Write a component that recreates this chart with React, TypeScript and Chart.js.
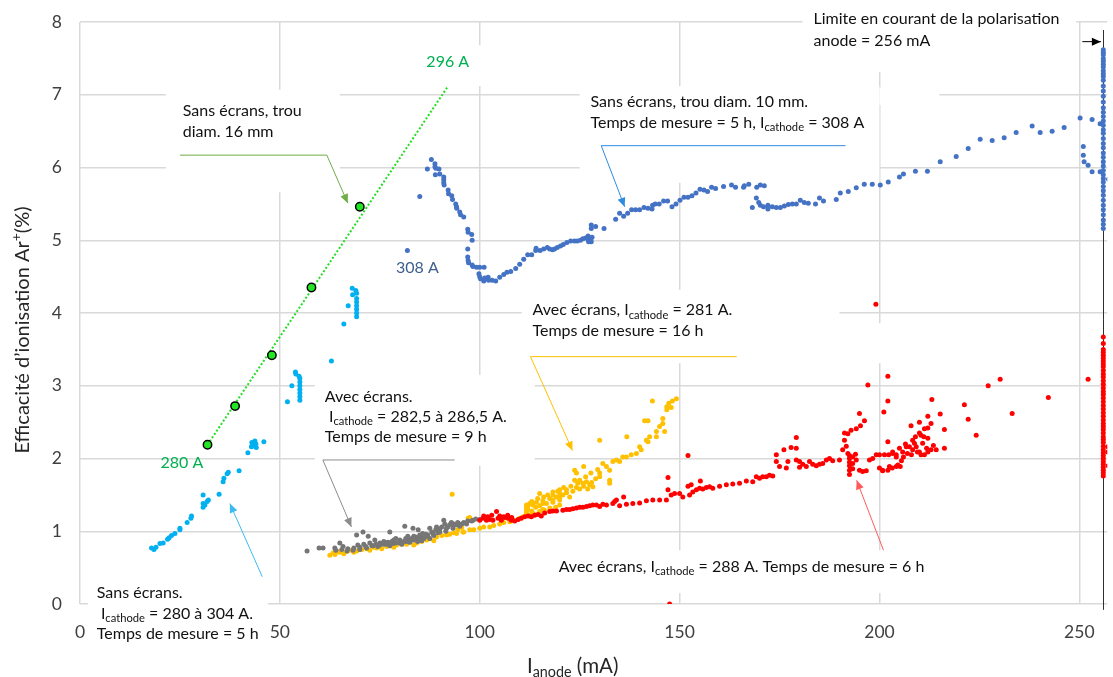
import { useEffect, useRef } from 'react';
import { Chart, registerables } from 'chart.js';
Chart.register(...registerables);

// ---------- axes ----------
const X_TICKS = [0, 50, 100, 150, 200, 250];
const Y_TICKS = [0, 1, 2, 3, 4, 5, 6, 7, 8];
const X_MAX = 257;
const Y_MAX = 8;

// ---------- series (x = I_anode mA, y = efficacité %) ----------
const green16mm: number[][] = [[31.9, 2.19], [38.8, 2.72], [48, 3.42], [57.9, 4.35], [70, 5.46]];
const greenTrend: number[][] = [[31.9, 2.19], [92.1, 7.12]];

const lightBlue: number[][] = [
  [17.9, 0.77], [18.5, 0.75], [19, 0.78], [20, 0.83], [20.8, 0.84], [21.9, 0.89], [22.3, 0.91], [22.9, 0.94],
  [23.75, 0.97], [25, 1.04], [25, 1.02], [26.8, 1.12], [27.75, 1.18], [27.9, 1.21], [30.8, 1.5], [30.8, 1.38],
  [30.8, 1.33], [31.25, 1.36], [31.8, 1.41], [32.1, 1.43], [34.8, 1.51], [35.8, 1.68], [36, 1.73], [36.8, 1.79],
  [37.1, 1.81], [39.8, 1.83], [42, 2.08], [42.9, 2.16], [43, 2.22], [43, 2.17], [43.25, 2.2], [43.75, 2.24],
  [44, 2.2], [44.1, 2.15], [46, 2.23], [51.9, 2.78], [53, 3.0], [53.9, 3.19], [54, 3.16], [54.8, 3.13],
  [55, 3.1], [55, 3.05], [55, 3.0], [55, 2.95], [55, 2.9], [55, 2.85], [55, 2.8], [62.9, 3.34], [66, 3.85],
  [67.1, 4.1], [68.1, 4.34], [68.2, 4.25], [69, 4.31], [69.2, 4.27], [69.2, 4.2], [69.2, 4.15], [69.2, 4.1],
  [69.2, 4.05], [69.2, 4.0], [69.2, 3.95],
];

const darkBlue: number[][] = [
  [81.9, 4.86], [85, 5.6], [86.9, 5.98], [87.9, 6.11], [88.8, 6.05], [88.8, 6.01], [89, 5.99], [89.8, 5.98],
  [90, 5.91], [88.9, 5.9], [91, 5.87], [91, 5.83], [91, 5.79], [91.1, 5.76], [92.1, 5.69], [92.2, 5.64],
  [93, 5.61], [93.2, 5.56], [94, 5.5], [94.2, 5.46], [94.25, 5.44], [95, 5.39], [95.2, 5.35], [96, 5.32],
  [97, 5.15], [97.1, 5.11], [98, 5.08], [98.1, 5.0], [97, 4.88], [97, 4.77], [97.1, 4.72], [97.2, 4.69],
  [98.1, 4.66], [98.3, 4.64], [99.2, 4.63], [100, 4.63], [101.1, 4.63], [99.8, 4.54], [100, 4.5], [100.2, 4.47],
  [101, 4.44], [101.25, 4.48], [102.1, 4.49], [102.2, 4.45], [103.1, 4.45], [104, 4.44], [105, 4.49], [106, 4.53],
  [106.8, 4.56], [107.75, 4.57], [109, 4.61], [110, 4.67], [111, 4.74], [112, 4.8], [113, 4.8], [114, 4.86],
  [114.1, 4.89], [115.1, 4.86], [116, 4.88], [116.9, 4.9], [117.5, 4.88], [118.2, 4.87], [118.7, 4.88],
  [119.4, 4.9], [120.2, 4.92], [120.9, 4.94], [121.8, 4.97], [122.75, 4.99], [123.7, 4.99], [124.4, 4.99],
  [125.2, 5.0], [125.8, 5.02], [126.5, 5.03], [127.1, 5.06], [127.2, 5.0], [127.25, 4.98], [127.25, 5.04],
  [127.8, 5.02], [127.9, 4.98], [128.1, 5.04], [127.9, 5.16], [127.9, 5.21], [129, 5.19], [131.1, 5.16],
  [134, 5.29], [135, 5.37], [136, 5.33], [137, 5.37], [138, 5.42], [139, 5.42], [140, 5.42], [141.1, 5.45],
  [142.1, 5.44], [143.1, 5.43], [143.25, 5.48], [143.9, 5.5], [144.9, 5.5], [146, 5.54], [147, 5.54],
  [148.1, 5.46], [149.1, 5.5], [150.1, 5.55], [151.1, 5.59], [152.1, 5.59], [153.1, 5.61], [154.1, 5.65],
  [155.1, 5.7], [156.1, 5.69], [157, 5.67], [158, 5.73], [159, 5.71], [161, 5.74], [163, 5.76], [164, 5.73],
  [166, 5.73], [166.2, 5.75], [167.3, 5.77], [169.3, 5.73], [170.2, 5.76], [171.2, 5.75], [168.2, 5.45],
  [169.2, 5.58], [169.8, 5.52], [170.2, 5.48], [171, 5.46], [172.1, 5.48], [172.1, 5.43], [173.2, 5.46],
  [174.2, 5.45], [175.2, 5.45], [176.2, 5.47], [177.2, 5.49], [178.2, 5.5], [179.2, 5.5], [180.2, 5.55],
  [181.2, 5.52], [182.2, 5.51], [184, 5.5], [185, 5.58], [186, 5.54], [189.2, 5.56], [190.2, 5.65],
  [192.2, 5.67], [194.2, 5.72], [196.2, 5.77], [198.2, 5.77], [200.2, 5.76], [202.2, 5.8], [205, 5.87],
  [206, 5.91], [209, 5.95], [212, 5.95], [215.2, 6.08], [219.2, 6.15], [222.2, 6.26], [225.2, 6.39],
  [228.2, 6.37], [231.2, 6.41], [234.2, 6.48], [238.2, 6.57], [240.2, 6.48], [243.2, 6.5], [246.2, 6.55],
  [250.2, 6.68], [253.2, 6.66], [255.2, 6.6], [251, 6.29], [251, 6.17], [251.2, 6.08], [252.2, 6.03],
  [253.2, 5.94], [255.2, 5.94], [257.3, 5.84],
  [256, 7.62], [256, 7.58], [256, 7.55], [256, 7.5], [256, 7.46], [256, 7.42], [256, 7.38], [256, 7.33],
  [256, 7.29], [256, 7.25], [256, 7.2], [256, 7.12], [256, 7.05], [256, 6.98], [256, 6.9], [256, 6.82],
  [256, 6.76], [256, 6.7], [256, 6.64], [256, 6.58], [256, 6.52], [256, 6.47], [256, 6.4], [256, 6.33],
  [256, 6.27], [256, 6.2], [256, 6.14], [256, 6.08], [256, 6.02], [256, 5.96], [256, 5.9], [256, 5.85],
  [256, 5.8], [256, 5.74], [256, 5.68], [256, 5.62], [256, 5.55], [256, 5.48], [256, 5.42], [256, 5.35],
  [256, 5.28], [256, 5.22], [256, 5.16],
];

const grayScreens: number[][] = [
  [56.8, 0.73], [59.8, 0.77], [60.8, 0.77], [63.75, 0.77], [65, 0.84], [65.8, 0.79], [66.8, 0.73], [68.3, 0.74],
  [70, 0.75], [71.7, 0.77], [73.3, 0.8], [75, 0.81], [76.7, 0.82], [78.3, 0.83], [80, 0.84], [81.7, 0.86],
  [83.3, 0.88], [85, 0.89], [86.7, 0.93], [88.3, 0.97], [90, 0.99], [91.7, 1.04], [93.3, 1.04], [95, 1.07],
  [96.7, 1.1], [98.3, 1.15], [100, 1.16], [69.2, 0.95], [70.8, 0.99], [72.1, 0.93], [73.75, 0.88], [77.5, 0.99],
  [81.25, 1.07], [83.3, 1.04], [84.6, 1.02], [85.7, 0.97], [87.5, 1.04], [89.2, 1.06], [91, 1.15], [91.25, 1.1],
  [92.9, 1.12], [94.2, 1.09], [74, 0.82], [75, 0.84], [76, 0.82], [77, 0.85], [78, 0.86], [79, 0.84],
  [80, 0.87], [81, 0.86], [82, 0.89], [83, 0.9], [84, 0.88], [85, 0.92], [86, 0.91], [87, 0.95], [88, 0.99],
  [89, 1.02], [90, 1.03], [92, 1.06], [94, 1.09], [96, 1.12], [98, 1.14], [99, 1.17], [64, 0.74], [65.5, 0.75],
  [67, 0.76], [68.5, 0.77], [70, 0.78], [71.5, 0.79], [73, 0.8], [84, 0.92], [85, 0.95], [86, 0.9], [80, 0.88],
  [79, 0.9], [76, 0.86], [82, 0.93],
  [74.5, 0.79], [75.5, 0.83], [77.5, 0.8], [78.5, 0.88], [80.5, 0.82], [81.5, 0.9], [82.5, 0.85], [83.5, 0.93],
  [84.5, 0.86], [85.5, 0.87], [86.5, 0.96], [87.5, 0.9], [88.5, 0.94], [89.5, 0.98], [90.5, 1.06], [91.5, 1.0],
  [92.5, 1.09], [93.5, 1.1], [94.5, 1.12], [95.5, 1.1], [97, 1.14], [72.5, 0.84], [71, 0.82], [69.5, 0.81],
];

const yellow281A: number[][] = [
  [62.5, 0.67], [63.3, 0.7], [65, 0.71], [66.7, 0.72], [69.2, 0.73], [71.7, 0.76], [74.2, 0.77], [76.7, 0.79],
  [79.2, 0.81], [81.7, 0.82], [84.2, 0.84], [86.7, 0.88], [89.2, 0.92], [91.7, 0.95], [94.2, 0.97], [95.8, 0.99],
  [97.5, 1.02], [100, 1.04], [102.5, 1.06], [105, 1.1], [107.5, 1.13], [110, 1.18], [112.5, 1.22], [115, 1.27],
  [117.5, 1.32], [120, 1.36], [93.5, 0.98], [94.5, 1.02], [95.5, 1.05], [96, 0.99], [93.1, 1.51], [97.1, 1.18],
  [97.5, 1.19], [111.7, 1.25], [111.7, 1.29], [111.7, 1.33], [111.7, 1.36], [115, 1.52], [115.8, 1.3],
  [115.8, 1.38], [118.3, 1.43], [118.3, 1.5], [118.3, 1.54], [120, 1.47], [120, 1.52], [120, 1.57],
  [121.7, 1.57], [123.75, 1.84], [124.2, 1.8], [123.75, 1.7], [125, 1.7], [125.8, 1.66], [126.7, 1.68],
  [127.5, 1.64], [128.3, 1.61], [126, 1.89], [130, 2.25], [130, 1.8], [130.8, 1.93], [131.7, 1.89],
  [132.5, 1.84], [133.3, 1.96], [134.2, 1.98], [135, 1.96], [135.8, 2.02], [136.7, 2.02], [137.9, 2.05],
  [139.2, 2.07], [132.5, 1.7], [132.5, 1.66], [136.8, 2.3], [140, 2.16], [140.4, 2.12], [141.7, 2.25],
  [142.1, 2.23], [142.5, 2.3], [144.2, 2.3], [144.2, 2.37], [145, 2.44], [145.8, 2.48], [145.8, 2.55],
  [146.25, 2.37], [141.25, 2.52], [142.1, 2.52], [143.2, 2.79], [146.8, 2.71], [147.3, 2.76], [148.2, 2.79],
  [149.2, 2.82], [146.8, 2.67], [147.9, 2.7], [112, 1.3], [112, 1.34], [112.5, 1.38], [113, 1.28],
  [113.3, 1.36], [114, 1.33], [114.2, 1.4], [115, 1.35], [115.8, 1.42], [116.7, 1.38], [117.5, 1.45],
  [118.3, 1.4], [119.2, 1.47], [120, 1.43], [120.8, 1.5], [121.7, 1.53], [122.5, 1.47], [123.3, 1.55],
  [124.2, 1.6], [125, 1.58], [126, 1.62], [127, 1.58], [128, 1.67], [129, 1.72], [130, 1.75],
  [63.8, 0.68], [64.5, 0.72], [66, 0.69], [67.5, 0.74], [68.5, 0.71], [70.5, 0.75], [72.5, 0.74], [73.5, 0.78],
  [75.5, 0.76], [77.5, 0.8], [78.5, 0.78], [80.5, 0.82], [82.5, 0.85], [83.5, 0.81], [85.5, 0.86], [87.5, 0.9],
  [88.5, 0.87], [90.5, 0.94], [92.5, 0.96], [98.5, 1.02], [101, 1.06], [103.5, 1.08], [106, 1.12], [108.5, 1.15],
  [110.8, 1.2], [113.5, 1.24], [116.2, 1.29], [119, 1.33], [113, 1.41], [114.5, 1.45], [116, 1.47], [117, 1.5],
  [119.5, 1.55], [121, 1.6], [122.8, 1.62], [124.5, 1.66], [126.5, 1.75], [127.8, 1.8], [129.5, 1.85],
];

const red288A: number[][] = [
  [100, 1.15], [100.8, 1.18], [101.7, 1.15], [102.5, 1.16], [103.3, 1.15], [104.2, 1.27], [104.6, 1.18],
  [105.4, 1.15], [106.25, 1.19], [107.1, 1.18], [107.9, 1.15], [108.75, 1.14], [109.6, 1.16], [110.4, 1.18],
  [111.25, 1.2], [112.1, 1.21], [112.9, 1.2], [113.75, 1.22], [114.6, 1.23], [115.4, 1.21], [116.25, 1.25],
  [101, 1.21], [102, 1.2], [103, 1.22], [105, 1.21], [106, 1.2], [107, 1.22], [108, 1.19],
  [117.5, 1.27], [118.3, 1.28], [119.2, 1.28], [120.8, 1.29], [121.7, 1.3], [122.5, 1.3], [123.3, 1.31],
  [124.2, 1.32], [125, 1.33], [125.8, 1.33], [126.7, 1.34], [127.5, 1.35], [128.3, 1.36], [129.2, 1.36],
  [130, 1.34], [130.8, 1.37], [131.7, 1.36], [133.3, 1.38], [133.75, 1.41], [134.2, 1.43], [135, 1.35],
  [136, 1.47], [136.7, 1.37], [138.3, 1.38], [140, 1.39], [141.7, 1.42], [143.3, 1.43], [145, 1.43],
  [146.7, 1.43], [147.1, 1.57], [147.1, 1.74], [147.9, 1.5], [148.75, 1.52], [150, 1.52], [150.8, 1.47],
  [152.1, 1.62], [152.1, 2.04], [152.5, 1.5], [152.9, 1.64], [153.3, 1.54], [154.2, 1.57], [155, 1.59],
  [155.2, 1.69], [155.8, 1.58], [156.7, 1.6], [157.5, 1.61], [158.3, 1.59], [160, 1.62], [161.7, 1.64],
  [163.3, 1.65], [165, 1.66], [166.7, 1.69], [168.3, 1.68], [169.2, 1.75], [170, 1.73], [170.8, 1.75],
  [171.7, 1.75], [172.5, 1.77], [173.3, 1.76], [174.2, 2.05], [174.2, 1.96], [175, 1.89], [176.1, 2.12],
  [176.7, 1.87], [177.1, 1.96], [177.9, 2.15], [179.2, 2.29], [179.2, 2.14], [179.2, 1.98], [180, 1.96],
  [180, 1.88], [180.8, 1.92], [181.7, 1.89], [182.5, 1.96], [183.3, 1.92], [184.2, 1.9], [185, 1.92],
  [185.8, 1.93], [186.7, 1.98], [187.5, 2.0], [188.3, 1.97], [190, 1.98], [190.8, 2.12], [191.25, 2.25],
  [191.25, 2.35], [192.1, 2.34], [191.7, 2.17], [192.1, 2.07], [192.5, 2.04], [192.5, 2.0], [192.5, 1.95],
  [192.5, 1.9], [192.5, 1.84], [192.5, 1.78], [192.9, 2.39], [194.2, 2.41], [195, 2.62], [195.25, 2.45],
  [196.25, 2.52], [193.3, 2.02], [194.2, 1.98], [195, 1.84], [195.8, 1.82], [196.7, 1.83], [197.1, 3.01],
  [197.5, 1.98], [198.3, 2.0], [199.2, 2.05], [200, 1.87], [200.8, 1.84], [201.25, 2.05], [201.1, 2.64],
  [202.1, 2.79], [202.1, 3.13], [202.1, 2.23], [202.5, 1.89], [203.3, 2.09], [204.2, 2.05], [199.1, 4.12],
  [147.5, 0.0], [200.8, 1.83], [202.1, 1.84], [203.2, 1.87], [204.2, 1.89], [204.6, 1.91], [205.2, 1.89],
  [200, 2.05], [202.3, 2.05], [203.3, 2.07], [204.2, 2.02], [205, 2.14], [205.8, 2.09], [206.7, 2.16],
  [207.5, 2.16], [208.3, 2.12], [208.3, 2.25], [208.75, 2.21], [209.2, 2.16], [210, 2.09], [210.4, 2.05],
  [210.8, 2.21], [211.25, 2.05], [212.1, 2.09], [212.9, 2.12], [214.2, 2.12], [216.25, 2.14], [207.9, 2.45],
  [210, 2.5], [210, 2.35], [210.4, 2.32], [211.25, 2.41], [211.1, 2.3], [212.1, 2.42], [212.1, 2.58],
  [212.9, 2.48], [213.1, 2.81], [212.1, 2.28], [215.2, 2.61], [216.25, 2.4], [221.25, 2.74], [222.2, 2.54],
  [224.2, 2.32], [227.2, 3.0], [230.2, 3.09], [233.2, 2.62], [242.25, 2.84], [252.2, 3.09], [257.1, 2.16],
  [257.1, 2.09], [257.2, 1.9],
  [193.3, 1.93], [193.3, 1.86], [194, 2.06], [206, 2.02], [207, 2.07], [208, 2.05], [209.5, 2.09], [211.8, 2.14],
  [213.5, 2.18], [209, 2.3], [206.5, 2.2], [205.5, 1.97],
  [256, 3.67], [256, 3.58], [256, 3.5], [256, 3.46], [256, 3.42], [256, 3.38], [256, 3.34], [256, 3.3],
  [256, 3.26], [256, 3.21], [256, 3.16], [256, 3.12], [256, 3.07], [256, 3.02], [256, 2.97], [256, 2.92],
  [256, 2.88], [256, 2.83], [256, 2.78], [256, 2.73], [256, 2.68], [256, 2.63], [256, 2.58], [256, 2.53],
  [256, 2.48], [256, 2.44], [256, 2.4], [256, 2.35], [256, 2.3], [256, 2.26], [256, 2.22], [256, 2.17],
  [256, 2.12], [256, 2.08], [256, 2.04], [256, 2.0], [256, 1.96], [256, 1.92], [256, 1.88], [256, 1.84],
  [256, 1.8], [256, 1.76],
];

const LIMIT_X = 256;

// ---------- annotations (data coordinates) ----------
const FONT = "Lato, 'Open Sans', sans-serif";
type Txt = { x: number; y: number; lines: string[]; color: string; size: number; lh: number; align?: CanvasTextAlign };
const TEXTS: Txt[] = [
  { x: 25.7, y: 6.78, lines: ['Sans écrans, trou', 'diam. 16 mm'], color: '#111', size: 16, lh: 20.7 },
  { x: 127.7, y: 6.9, lines: ['Sans écrans, trou diam. 10 mm.', 'Temps de mesure = 5 h, I_{cathode} = 308 A'], color: '#111', size: 16, lh: 21 },
  { x: 183.5, y: 8.04, lines: ['Limite en courant de la polarisation', 'anode = 256 mA'], color: '#111', size: 16, lh: 21.7 },
  { x: 113.2, y: 4.04, lines: ['Avec écrans, I_{cathode} = 281 A.', 'Temps de mesure = 16 h'], color: '#111', size: 16, lh: 20.7 },
  { x: 61.25, y: 2.85, lines: ['Avec écrans.', ' I_{cathode} = 282,5 à 286,5 A.', 'Temps de mesure = 9 h'], color: '#111', size: 16, lh: 20.3 },
  { x: 4.2, y: 0.147, lines: ['Sans écrans.', ' I_{cathode} = 280 à 304 A.', 'Temps de mesure = 5 h'], color: '#111', size: 16, lh: 20.3 },
  { x: 119.75, y: 0.51, lines: ['Avec écrans, I_{cathode} = 288 A. Temps de mesure = 6 h'], color: '#111', size: 16, lh: 21 },
  { x: 92, y: 7.45, lines: ['296 A'], color: '#00B050', size: 16, lh: 20, align: 'center' },
  { x: 25.5, y: 1.94, lines: ['280 A'], color: '#00B050', size: 16, lh: 20, align: 'center' },
  { x: 84.4, y: 4.62, lines: ['308 A'], color: '#3E5F8E', size: 16, lh: 20, align: 'center' },
];
const ARROWS: { pts: number[][]; color: string }[] = [
  { pts: [[25, 6.17], [61.75, 6.17], [67, 5.51]], color: '#70AD47' },
  { pts: [[191.5, 6.3], [130.4, 6.3], [136.25, 5.46]], color: '#2E8BE0' },
  { pts: [[250.75, 7.73], [255.4, 7.73]], color: '#000000' },
  { pts: [[164.3, 3.4], [112.7, 3.4], [123.2, 2.11]], color: '#FFC000' },
  { pts: [[93.75, 1.98], [60.75, 1.98], [67.9, 1.06]], color: '#8C8C8C' },
  { pts: [[45.6, 0.375], [37.5, 1.38]], color: '#3DBBF0' },
  { pts: [[201, 0.74], [194.3, 1.7]], color: '#FF5A5A' },
];
const BOXES: number[][] = [
  [21.5, 7.07, 65, 5.66],
  [85, 7.68, 102.5, 7.12],
  [125, 7.12, 200, 5.79],
  [200, 7.09, 215, 6.86],
  [180.75, 8.3, 249.25, 7.31],
  [110.5, 4.32, 190, 3.31],
  [190, 3.86, 205, 3.31],
  [58.75, 3.15, 113.75, 1.9],
  [2, 0.4, 47, -0.7],
  [117.5, 0.74, 212.5, 0.15],
];

function richSegs(s: string) {
  const parts = s.split(/(_\{[^}]*\}|\^\{[^}]*\})/).filter((p) => p.length);
  return parts.map((p) => {
    if (p.startsWith('_{')) return { t: p.slice(2, -1), mode: 'sub' };
    if (p.startsWith('^{')) return { t: p.slice(2, -1), mode: 'sup' };
    return { t: p, mode: 'n' };
  });
}
function richWidth(ctx: CanvasRenderingContext2D, s: string, size: number) {
  let w = 0;
  for (const g of richSegs(s)) {
    ctx.font = `${g.mode === 'n' ? size : size * 0.7}px ${FONT}`;
    w += ctx.measureText(g.t).width;
  }
  return w;
}
function drawRich(ctx: CanvasRenderingContext2D, s: string, x: number, y: number, size: number) {
  let cx = x;
  ctx.textBaseline = 'middle';
  ctx.textAlign = 'left';
  for (const g of richSegs(s)) {
    const fs = g.mode === 'n' ? size : size * 0.7;
    ctx.font = `${fs}px ${FONT}`;
    const dy = g.mode === 'sub' ? size * 0.3 : g.mode === 'sup' ? -size * 0.35 : 0;
    ctx.fillText(g.t, cx, y + dy);
    cx += ctx.measureText(g.t).width;
  }
}

const annoPlugin = {
  id: 'annoPlugin',
  beforeDatasetsDraw(chart: any) {
    const { ctx } = chart;
    const xs = chart.scales.x;
    const ys = chart.scales.y;
    ctx.save();
    ctx.fillStyle = '#ffffff';
    for (const b of BOXES) {
      const x1 = xs.getPixelForValue(b[0]);
      const y1 = ys.getPixelForValue(b[1]);
      const x2 = xs.getPixelForValue(b[2]);
      const y2 = ys.getPixelForValue(b[3]);
      ctx.fillRect(x1, y1, x2 - x1, y2 - y1);
    }
    const lx = Math.round(xs.getPixelForValue(LIMIT_X)) + 0.5;
    ctx.strokeStyle = '#303030';
    ctx.lineWidth = 1;
    ctx.beginPath();
    ctx.moveTo(lx, ys.getPixelForValue(7.89));
    ctx.lineTo(lx, ys.getPixelForValue(-0.08));
    ctx.stroke();
    ctx.restore();
  },
  afterDraw(chart: any) {
    const { ctx } = chart;
    const xs = chart.scales.x;
    const ys = chart.scales.y;
    ctx.save();
    for (const a of ARROWS) {
      const p = a.pts.map(([vx, vy]) => [xs.getPixelForValue(vx), ys.getPixelForValue(vy)]);
      ctx.strokeStyle = a.color;
      ctx.fillStyle = a.color;
      ctx.lineWidth = 1;
      ctx.beginPath();
      ctx.moveTo(p[0][0], p[0][1]);
      for (let i = 1; i < p.length; i++) ctx.lineTo(p[i][0], p[i][1]);
      ctx.stroke();
      const [ax, ay] = p[p.length - 1];
      const [bx, by] = p[p.length - 2];
      const ang = Math.atan2(ay - by, ax - bx);
      const L = 9, W = 4;
      ctx.beginPath();
      ctx.moveTo(ax, ay);
      ctx.lineTo(ax - L * Math.cos(ang) + W * Math.sin(ang), ay - L * Math.sin(ang) - W * Math.cos(ang));
      ctx.lineTo(ax - L * Math.cos(ang) - W * Math.sin(ang), ay - L * Math.sin(ang) + W * Math.cos(ang));
      ctx.closePath();
      ctx.fill();
    }
    for (const t of TEXTS) {
      ctx.fillStyle = t.color;
      const px = xs.getPixelForValue(t.x);
      const py = ys.getPixelForValue(t.y);
      t.lines.forEach((ln, i) => {
        let sx = px;
        if (t.align === 'center') sx = px - richWidth(ctx, ln, t.size) / 2;
        drawRich(ctx, ln, sx, py + i * t.lh, t.size);
      });
    }
    ctx.fillStyle = '#262626';
    const yTitle = 'Efficacité d’ionisation Ar^{+}(%)';
    ctx.save();
    ctx.translate(23, 330);
    ctx.rotate(-Math.PI / 2);
    const w = richWidth(ctx, yTitle, 20);
    drawRich(ctx, yTitle, -w / 2, 0, 20);
    ctx.restore();
    drawRich(ctx, 'I_{anode} (mA)', 527, 666, 20.5);
    ctx.restore();
  },
};

const pts = (arr: number[][]) => arr.map(([x, y]) => ({ x, y }));

export default function App() {
  const ref = useRef<HTMLCanvasElement | null>(null);
  useEffect(() => {
    if (!ref.current) return;
    const tickFont = { family: FONT, size: 17.5 };
    const chart = new Chart(ref.current, {
      type: 'scatter',
      data: {
        datasets: [
          {
            label: 'Sans écrans, trou diam. 16 mm',
            data: pts(green16mm),
            backgroundColor: '#22E622',
            borderColor: '#000000',
            borderWidth: 1.5,
            pointRadius: 4.2,
          },
          {
            type: 'line',
            label: 'Tendance 16 mm',
            data: pts(greenTrend),
            borderColor: '#22DD22',
            borderWidth: 2,
            borderDash: [2, 2],
            pointRadius: 0,
            showLine: true,
            fill: false,
          } as any,
          { label: 'Sans écrans, trou diam. 10 mm', data: pts(darkBlue), backgroundColor: '#4472C4', borderWidth: 0, pointRadius: 2.5 },
          { label: 'Sans écrans 280-304 A', data: pts(lightBlue), backgroundColor: '#00B0F0', borderWidth: 0, pointRadius: 2.5 },
          { label: 'Avec écrans 288 A', data: pts(red288A), backgroundColor: '#FF0000', borderWidth: 0, pointRadius: 2.5 },
          { label: 'Avec écrans 282,5-286,5 A', data: pts(grayScreens), backgroundColor: '#767676', borderWidth: 0, pointRadius: 2.5 },
          { label: 'Avec écrans 281 A', data: pts(yellow281A), backgroundColor: '#FFC000', borderWidth: 0, pointRadius: 2.5 },
        ],
      },
      options: {
        animation: false,
        responsive: false,
        devicePixelRatio: 1,
        events: [],
        layout: { padding: { top: 22, left: 0, right: 0, bottom: 0 } },
        plugins: { legend: { display: false }, tooltip: { enabled: false }, title: { display: false } },
        scales: {
          x: {
            type: 'linear',
            min: 0,
            max: X_MAX,
            afterBuildTicks: (s: any) => { s.ticks = X_TICKS.map((v) => ({ value: v })); },
            afterFit: (s: any) => { s.height = 73; s.paddingLeft = 0; s.paddingRight = 0; },
            grid: { color: '#D9D9D9', lineWidth: 1.5, drawTicks: false },
            border: { display: false },
            ticks: { padding: 18, font: tickFont, color: '#404040', maxRotation: 0, autoSkip: false },
          },
          y: {
            type: 'linear',
            min: 0,
            max: Y_MAX,
            afterBuildTicks: (s: any) => { s.ticks = Y_TICKS.map((v) => ({ value: v })); },
            afterFit: (s: any) => { s.width = 80; s.paddingTop = 0; s.paddingBottom = 0; },
            grid: { color: '#D9D9D9', lineWidth: 1.5, drawTicks: false },
            border: { display: false },
            ticks: { padding: 18, font: tickFont, color: '#404040', autoSkip: false },
          },
        },
      },
      plugins: [annoPlugin],
    });
    return () => chart.destroy();
  }, []);
  return (
    <div style={{ position: 'fixed', left: 0, top: 0, width: 1113, height: 677, background: '#fff', overflow: 'hidden' }}>
      <canvas ref={ref} width={1113} height={677} style={{ width: 1113, height: 677, display: 'block' }} />
    </div>
  );
}
